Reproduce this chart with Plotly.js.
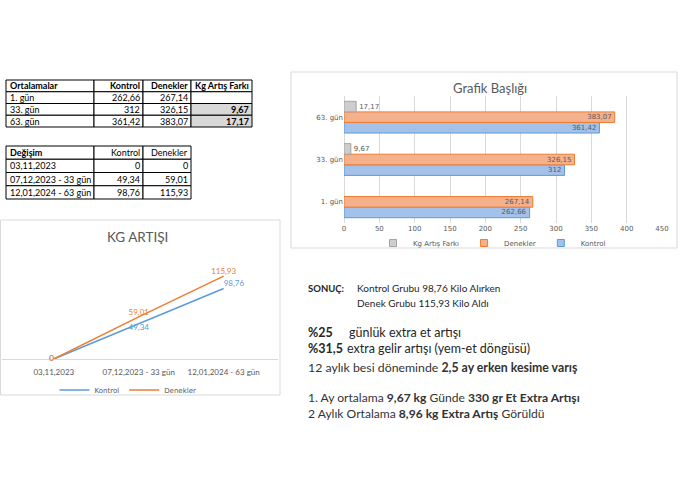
<!DOCTYPE html>
<html>
<head>
<meta charset="utf-8">
<script src="https://cdn.plot.ly/plotly-3.0.1.min.js"></script>
<style>html,body{margin:0;padding:0;background:#fff;}#chart{width:700px;height:500px;}</style>
</head>
<body>
<div id="chart"></div>
<script>
// ---- data ----
const avgHeaders = ['Ortalamalar', 'Kontrol', 'Denekler', 'Kg Artış Farkı'];
const days = ['1. gün', '33. gün', '63. gün'];
const kontrolAvg = [262.66, 312, 361.42];
const denekAvg = [267.14, 326.15, 383.07];
const farkAvg = [null, 9.67, 17.17];

const gainHeaders = ['Değişim', 'Kontrol', 'Denekler'];
const dates = ['03,11,2023', '07,12,2023 - 33 gün', '12,01,2024 - 63 gün'];
const kontrolGain = [0, 49.34, 98.76];
const denekGain = [0, 59.01, 115.93];

const barTitle = 'Grafik Başlığı';
const lineTitle = 'KG ARTIŞI';
const xTicks = [0, 50, 100, 150, 200, 250, 300, 350, 400, 450];

// ---- helpers ----
const W = 700, H = 500;
const px = v => v / W;
const py = v => 1 - v / H;
const fmt = v => (v === null || v === undefined) ? '' : String(v).replace('.', ',');
const FONT = 'Lato, "Open Sans", sans-serif';
const SMALL = '"DejaVu Sans", sans-serif';
const GRAY = '#595959';

const BLUE = '#5b9bd5', BLUE_F = '#a3c1e9';
const ORANGE = '#ed7d31', ORANGE_F = '#f5b08c';
const GREY = '#a5a5a5', GREY_F = '#cdcdcd';

const shapes = [];
const annotations = [];

// spreadsheet-like table drawn with shapes + annotations
function addTable(xs, ys, rows, aligns, boldFn, fillFn) {
  rows.forEach((row, r) => {
    row.forEach((val, c) => {
      shapes.push({
        type: 'rect', xref: 'paper', yref: 'paper', layer: 'below',
        x0: px(xs[c]), x1: px(xs[c + 1]), y0: py(ys[r + 1]), y1: py(ys[r]),
        line: {color: '#000', width: 1}, fillcolor: fillFn(r, c, val)
      });
      if (val === '') return;
      const al = aligns[c];
      annotations.push({
        xref: 'paper', yref: 'paper', showarrow: false,
        x: al === 'left' ? px(xs[c] + 1.5) : px(xs[c + 1] - 1.5), xanchor: al,
        y: py((ys[r] + ys[r + 1]) / 2), yanchor: 'middle',
        text: boldFn(r, c) ? '<b>' + val + '</b>' : val,
        font: {family: FONT, size: 9, color: '#000'}
      });
    });
  });
}

const table1 = [avgHeaders].concat(days.map((d, i) => [d, fmt(kontrolAvg[i]), fmt(denekAvg[i]), fmt(farkAvg[i])]));
addTable([6, 94, 143, 191, 252], [80, 91.75, 103.5, 115.25, 127], table1,
  ['left', 'right', 'right', 'right'],
  (r, c) => r === 0 || (c === 3 && r > 0),
  (r, c, v) => (r > 0 && c === 3 && farkAvg[r - 1] !== null) ? '#d9d9d9' : '#ffffff');

const table2 = [gainHeaders].concat(dates.map((d, i) => [d, fmt(kontrolGain[i]), fmt(denekGain[i])]));
addTable([6, 94, 143, 191], [146, 159.25, 172.5, 185.75, 199], table2,
  ['left', 'right', 'right'],
  (r, c) => r === 0 && c === 0,
  () => '#ffffff');

const traces = [];

// Bar chart
const barFont = {family: SMALL, size: 7, color: GRAY};
traces.push({
  type: 'bar', orientation: 'h', name: 'Kontrol', y: days, x: kontrolAvg,
  xaxis: 'x', yaxis: 'y', showlegend: false,
  marker: {color: BLUE_F, line: {color: BLUE, width: 1}},
  text: kontrolAvg.map(fmt), textposition: 'inside', insidetextanchor: 'end',
  constraintext: 'none', textfont: barFont, hoverinfo: 'none'
});
traces.push({
  type: 'bar', orientation: 'h', name: 'Denekler', y: days, x: denekAvg,
  xaxis: 'x', yaxis: 'y', showlegend: false,
  marker: {color: ORANGE_F, line: {color: ORANGE, width: 1}},
  text: denekAvg.map(fmt), textposition: 'inside', insidetextanchor: 'end',
  constraintext: 'none', textfont: barFont, hoverinfo: 'none'
});
traces.push({
  type: 'bar', orientation: 'h', name: 'Kg Artış Farkı', y: days, x: farkAvg,
  xaxis: 'x', yaxis: 'y', showlegend: false,
  marker: {color: GREY_F, line: {color: GREY, width: 1}},
  text: farkAvg.map(fmt), textposition: 'outside', cliponaxis: false,
  constraintext: 'none', textfont: barFont, hoverinfo: 'none'
});
// legend entries (small squares, Excel style)
[['Kg Artış Farkı', GREY_F, GREY], ['Denekler', ORANGE_F, ORANGE], ['Kontrol', BLUE_F, BLUE]].forEach(([n, f, l]) => {
  traces.push({
    type: 'scatter', mode: 'markers', name: n, x: [null], y: [null], xaxis: 'x', yaxis: 'y',
    legend: 'legend', marker: {symbol: 'square', size: 7, color: f, line: {color: l, width: 1}},
    hoverinfo: 'none'
  });
});

// Line chart
traces.push({
  type: 'scatter', mode: 'lines+text', name: 'Kontrol', x: dates, y: kontrolGain,
  xaxis: 'x2', yaxis: 'y2', legend: 'legend2',
  line: {color: BLUE, width: 1.5},
  text: kontrolGain.map(fmt), textposition: ['middle left', 'bottom center', 'top right'],
  textfont: {family: FONT, size: 8, color: BLUE}, cliponaxis: false, hoverinfo: 'none'
});
traces.push({
  type: 'scatter', mode: 'lines+text', name: 'Denekler', x: dates, y: denekGain,
  xaxis: 'x2', yaxis: 'y2', legend: 'legend2',
  line: {color: ORANGE, width: 1.5},
  text: denekGain.map(fmt), textposition: ['middle left', 'top center', 'top center'],
  textfont: {family: FONT, size: 8, color: ORANGE}, cliponaxis: false, hoverinfo: 'none'
});

const txt = (x, y, text, size, color) => ({
  xref: 'paper', yref: 'paper', x: px(x), y: py(y), xanchor: 'left', yanchor: 'middle',
  text: text, showarrow: false, font: {family: FONT, size: size, color: color || '#262626'}
});

shapes.push(
  {type: 'rect', xref: 'paper', yref: 'paper', x0: px(291), x1: px(677), y0: py(248), y1: py(72), line: {color: '#d9d9d9', width: 1}},
  {type: 'rect', xref: 'paper', yref: 'paper', x0: px(0.5), x1: px(280), y0: py(395), y1: py(220), line: {color: '#d9d9d9', width: 1}}
);

annotations.push(
  {xref: 'paper', yref: 'paper', x: px(490), y: py(88), text: barTitle, showarrow: false,
   xanchor: 'center', yanchor: 'middle', font: {family: FONT, size: 13, color: GRAY}},
  {xref: 'paper', yref: 'paper', x: px(137), y: py(237), text: lineTitle, showarrow: false,
   xanchor: 'center', yanchor: 'middle', font: {family: FONT, size: 13.5, color: GRAY}},
  txt(306, 288, '<b>SONUÇ:</b>', 9.5, '#262626'),
  txt(355, 288, 'Kontrol Grubu 98,76 Kilo Alırken', 10, '#262626'),
  txt(355, 303, 'Denek Grubu 115,93 Kilo Aldı', 10, '#262626'),
  txt(306, 332, '<b>%25</b>', 12.5, '#262626'),
  txt(347, 332, 'günlük extra et artışı', 12.5, '#262626'),
  txt(306, 348, '<b>%31,5</b>', 12.5, '#262626'),
  txt(345, 348, 'extra gelir artışı (yem-et döngüsü)', 12.5, '#262626'),
  txt(306, 367, '12 aylık besi döneminde <b>2,5 ay erken kesime varış</b>', 12.3, '#333'),
  txt(306, 397, '1. Ay ortalama <b>9,67 kg</b> Günde <b>330 gr Et Extra Artışı</b>', 12.1, '#333'),
  txt(306, 413, '2 Aylık Ortalama <b>8,96 kg Extra Artış</b> Görüldü', 12.1, '#333')
);

const layout = {
  width: W, height: H,
  margin: {l: 0, r: 0, t: 0, b: 0},
  paper_bgcolor: '#fff', plot_bgcolor: 'rgba(0,0,0,0)',
  font: {family: FONT, color: GRAY},
  barmode: 'group', bargap: 0.25, bargroupgap: 0,
  xaxis: {
    domain: [px(344), px(662)], range: [0, 450], tickvals: xTicks, ticktext: xTicks.map(String),
    showgrid: true, gridcolor: '#d9d9d9', zeroline: true, zerolinecolor: '#d9d9d9',
    showline: false, ticks: '', tickfont: {family: SMALL, size: 7, color: GRAY},
    anchor: 'y', fixedrange: true
  },
  yaxis: {
    domain: [py(223), py(96)], type: 'category', categoryorder: 'array', categoryarray: days,
    range: [-0.5, 2.5],
    showgrid: false, zeroline: false, showline: false, ticks: '',
    tickfont: {family: SMALL, size: 7, color: GRAY},
    anchor: 'x', fixedrange: true
  },
  xaxis2: {
    domain: [px(2), px(278)], type: 'category', range: [-0.61, 2.64],
    showgrid: false, zeroline: false, showline: false, ticks: '',
    tickfont: {family: FONT, size: 8, color: GRAY}, anchor: 'y2', fixedrange: true,
    ticklabelstandoff: 7
  },
  yaxis2: {
    domain: [py(359), py(259)], range: [0, 140], showgrid: false, showticklabels: false,
    zeroline: true, zerolinecolor: '#d9d9d9', zerolinewidth: 1, showline: false, ticks: '',
    anchor: 'x2', fixedrange: true
  },
  legend: {
    orientation: 'h', x: px(492), xanchor: 'center', y: py(243), yanchor: 'middle',
    font: {family: SMALL, size: 7, color: GRAY},
    bgcolor: 'rgba(0,0,0,0)', itemwidth: 30
  },
  legend2: {
    orientation: 'h', x: px(128), xanchor: 'center', y: py(390), yanchor: 'middle',
    font: {family: SMALL, size: 7, color: GRAY},
    bgcolor: 'rgba(0,0,0,0)', itemwidth: 30
  },
  shapes: shapes,
  annotations: annotations
};

Plotly.newPlot('chart', traces, layout, {displayModeBar: false, staticPlot: true});
</script>
</body>
</html>
